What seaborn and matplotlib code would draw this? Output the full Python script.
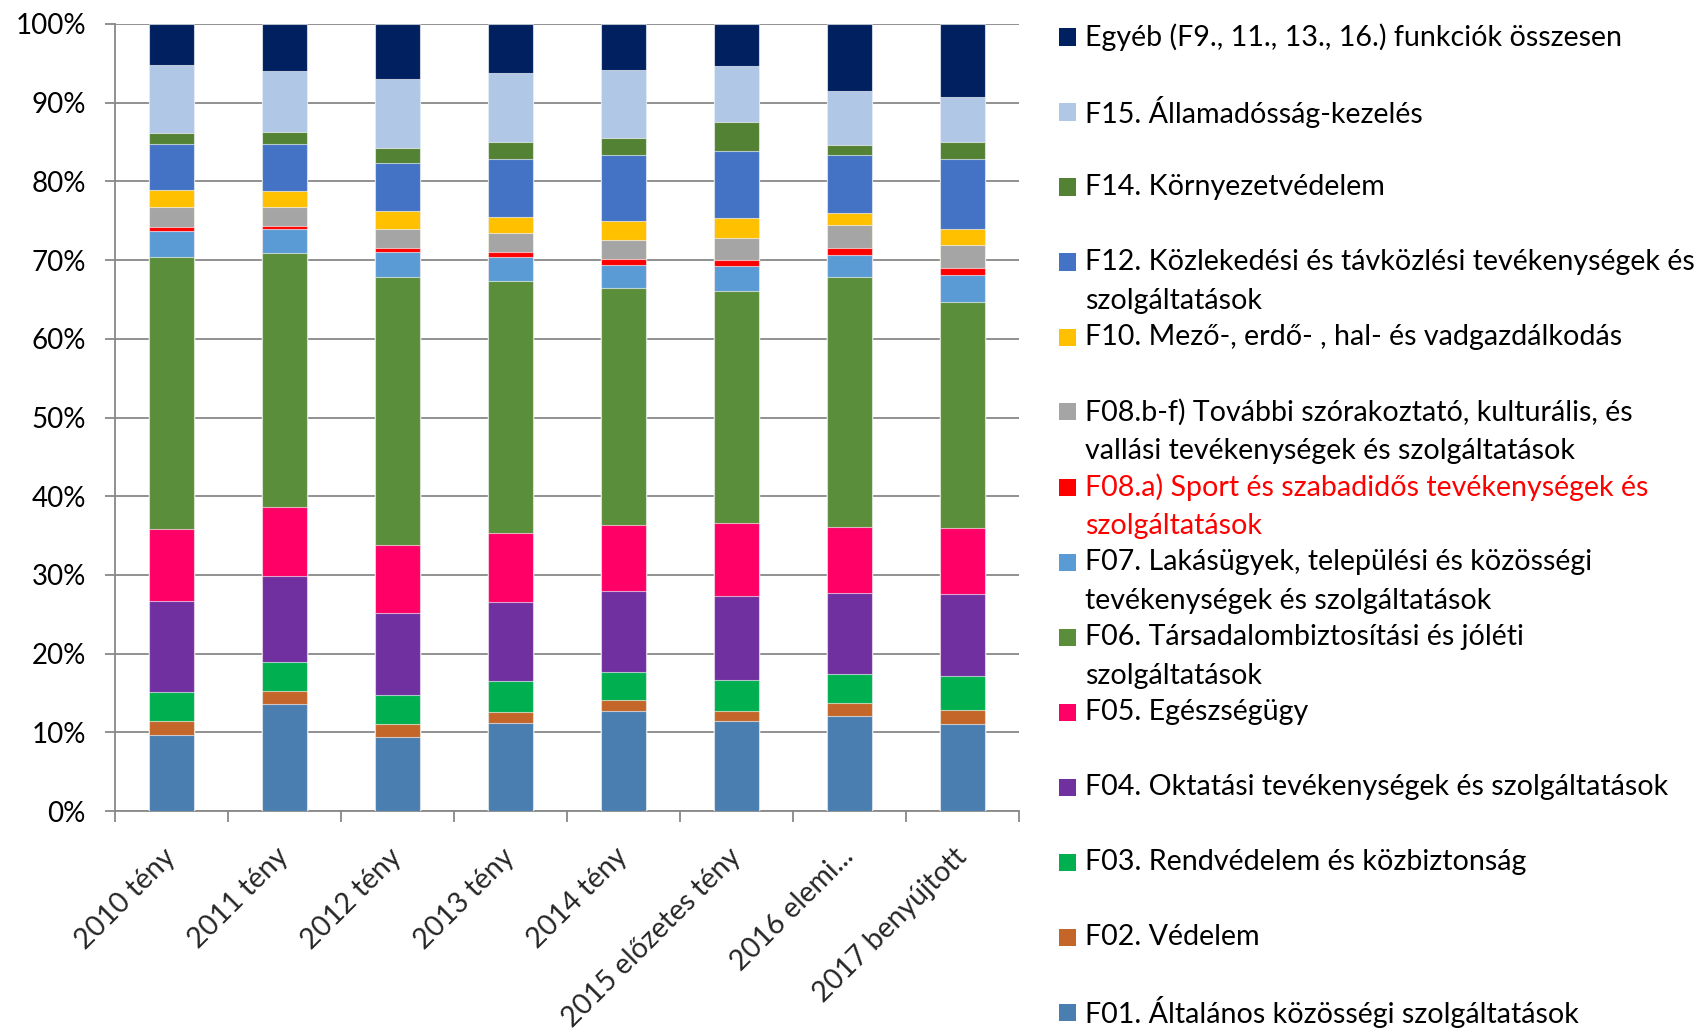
import numpy as np
import pandas as pd
import matplotlib
matplotlib.use("Agg")
import matplotlib.pyplot as plt
from matplotlib.patches import Rectangle
import seaborn as sns

# years on the x axis
years = ["2010 tény", "2011 tény", "2012 tény", "2013 tény", "2014 tény",
         "2015 előzetes tény", "2016 elemi...", "2017 benyújtott"]

# share of each function in % (bottom to top)
f01 = [9.6, 13.6, 9.4, 11.2, 12.7, 11.4, 12.1, 11.1]
f02 = [1.8, 1.6, 1.6, 1.4, 1.4, 1.35, 1.6, 1.7]
f03 = [3.7, 3.7, 3.8, 3.9, 3.6, 3.95, 3.7, 4.3]
f04 = [11.6, 10.9, 10.4, 10.1, 10.25, 10.6, 10.3, 10.5]
f05 = [9.1, 8.8, 8.6, 8.7, 8.45, 9.3, 8.4, 8.3]
f06 = [34.6, 32.3, 34.0, 32.0, 30.1, 29.5, 31.8, 28.8]
f07 = [3.3, 3.0, 3.2, 3.1, 2.9, 3.2, 2.7, 3.4]
f08a = [0.5, 0.4, 0.6, 0.6, 0.7, 0.75, 1.0, 0.9]
f08bf = [2.5, 2.4, 2.3, 2.4, 2.5, 2.8, 2.8, 2.95]
f10 = [2.2, 2.1, 2.4, 2.1, 2.4, 2.55, 1.6, 2.05]
f12 = [5.85, 5.9, 6.0, 7.3, 8.3, 8.5, 7.3, 8.9]
f14 = [1.45, 1.6, 2.0, 2.2, 2.25, 3.65, 1.3, 2.1]
f15 = [8.6, 7.7, 8.75, 8.8, 8.65, 7.15, 6.9, 5.7]
egyeb = [5.2, 6.0, 6.95, 6.2, 5.8, 5.3, 8.5, 9.3]

series = [f01, f02, f03, f04, f05, f06, f07, f08a, f08bf, f10, f12, f14, f15, egyeb]

labels = [
    "F01. Általános közösségi szolgáltatások",
    "F02. Védelem",
    "F03. Rendvédelem és közbiztonság",
    "F04. Oktatási tevékenységek és szolgáltatások",
    "F05. Egészségügy",
    "F06. Társadalombiztosítási és jóléti\nszolgáltatások",
    "F07. Lakásügyek, települési és közösségi\ntevékenységek és szolgáltatások",
    "F08.a) Sport és szabadidős tevékenységek és\nszolgáltatások",
    "F08.b-f) További szórakoztató, kulturális, és\nvallási tevékenységek és szolgáltatások",
    "F10. Mező-, erdő- , hal- és vadgazdálkodás",
    "F12. Közlekedési és távközlési tevékenységek és\nszolgáltatások",
    "F14. Környezetvédelem",
    "F15. Államadósság-kezelés",
    "Egyéb (F9., 11., 13., 16.) funkciók összesen",
]

colors = ["#4A7EB0", "#C4662A", "#00B050", "#7030A0", "#FF0066", "#5B8E3A",
          "#5B9BD5", "#FF0000", "#A5A5A5", "#FFC000", "#4472C4", "#548235",
          "#B0C7E6", "#002060"]

sns.set_theme(style="white")
plt.rcParams['font.family'] = ['Lato', 'DejaVu Sans']

fig = plt.figure(figsize=(17.04, 10.36), dpi=100)
W, H = 1704, 1036
ax = fig.add_axes([115 / W, 1 - 811 / H, (1019 - 115) / W, (811 - 24) / H])

# stacked bars: draw cumulative totals from the top down so each layer covers the rest
vals = pd.DataFrame(dict(zip(labels, series)), index=years)
cum = vals.cumsum(axis=1)
for lab, col in reversed(list(zip(labels, colors))):
    d = pd.DataFrame({"year": years, "cum": cum[lab].values})
    sns.barplot(data=d, x="year", y="cum", color=col, saturation=1, width=0.4,
                errorbar=None, ax=ax, edgecolor=(1, 1, 1, 0.6), linewidth=0.8, zorder=3)

grid_c = "#888888"
ax.set_xlim(-0.5, len(years) - 0.5)
ax.set_ylim(0, 100)
ax.set_yticks(np.arange(0, 101, 10))
ax.set_yticklabels([f"{v}%" for v in range(0, 101, 10)])
ax.yaxis.grid(True, color=grid_c, linewidth=1.3, zorder=0)
ax.set_axisbelow(True)
ax.set_xlabel("")
ax.set_ylabel("")
for s in ["top", "right"]:
    ax.spines[s].set_visible(False)
for s in ["left", "bottom"]:
    ax.spines[s].set_color(grid_c)
    ax.spines[s].set_linewidth(1.3)

ax.tick_params(axis="y", which="major", left=True, length=7, width=1.3, color=grid_c,
               labelsize=20, pad=14, labelcolor="black")
ax.set_xticks(np.arange(len(years)))
ax.set_xticks(np.arange(-0.5, len(years)), minor=True)
ax.tick_params(axis="x", which="major", bottom=False, length=0, labelsize=20.5, pad=30)
ax.tick_params(axis="x", which="minor", bottom=True, length=8, width=1.3, color=grid_c)
ax.set_xticklabels(years, rotation=45, ha="right", rotation_mode="anchor", va="center")

# legend, top entry first, one slot per entry, wrapped labels spill downward
slot, line_h = 75, 39
for i, (lab, col) in enumerate(zip(labels[::-1], colors[::-1])):
    py = 37 + slot * i
    fig.patches.append(Rectangle((1059 / W, 1 - (py + 8.5) / H), 17 / W, 17 / H,
                                 transform=fig.transFigure, facecolor=col, edgecolor="none"))
    tc = "#FF0000" if lab.startswith("F08.a") else "black"
    for k, line in enumerate(lab.split("\n")):
        fig.text(1085 / W, 1 - (py + k * line_h) / H, line, fontsize=20.6,
                 color=tc, va="center", ha="left")

fig.savefig("out.png", dpi=100)
